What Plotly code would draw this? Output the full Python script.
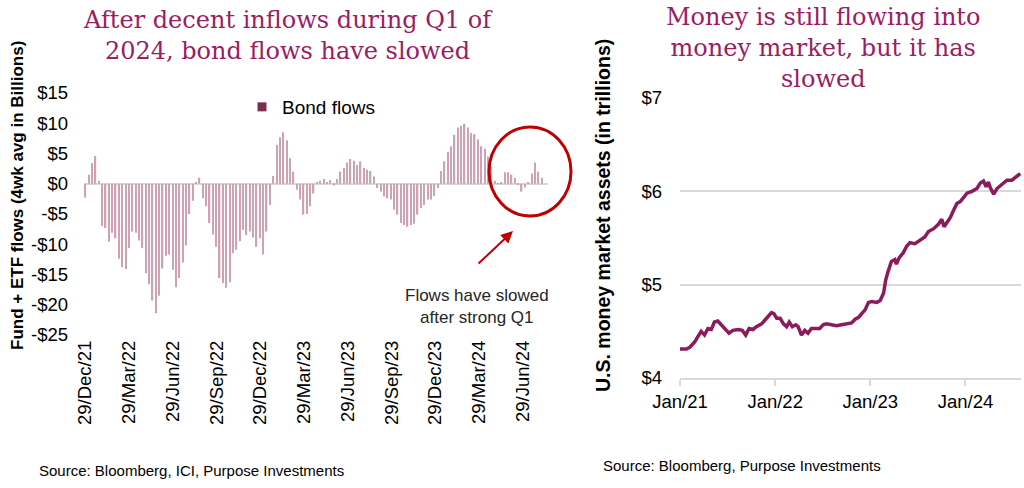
import pandas as pd
import plotly.graph_objects as go

# ---------------- Data ----------------
# Left: weekly bond fund + ETF flows (4wk avg, $B), first week 29/Dec/21
bond_start = "2021-12-29"
bond_flows = [
    -2.3, 1.5, 3.4, 4.6, 0.5, -7.0, -7.3, -9.6, -8.1, -9.0,
    -12.4, -13.8, -14.1, -10.6, -7.9, -8.1, -9.4, -10.6, -14.8, -16.6,
    -19.3, -21.4, -18.5, -14.0, -11.9, -11.7, -14.2, -17.1, -15.6, -13.0,
    -10.2, -5.0, -2.8, 0.3, 1.0, -2.4, -3.7, -6.5, -8.4, -10.4,
    -15.6, -16.4, -17.2, -16.3, -11.5, -10.9, -9.5, -7.6, -8.5, -7.9,
    -8.9, -10.4, -9.0, -11.7, -7.9, -3.5, 1.3, 6.4, 7.7, 8.5,
    7.2, 4.2, 2.0, -1.0, -2.6, -5.1, -5.0, -3.7, -1.6, 0.2,
    0.5, 0.8, 0.2, 0.6, -0.3, 0.8, 2.0, 2.6, 3.5, 4.1,
    3.8, 3.1, 3.7, 2.6, 2.3, 2.1, 1.2, -0.7, -1.3, -2.1,
    -2.4, -2.6, -4.3, -5.1, -6.5, -6.8, -7.1, -6.8, -6.6, -5.1,
    -4.0, -3.5, -2.6, -2.6, -2.0, -0.7, 2.1, 3.7, 5.3, 6.2,
    8.1, 9.3, 9.6, 9.9, 9.3, 8.4, 8.2, 7.3, 6.2, 5.8,
    4.5, 2.8, 0.5, 0.1, 0.3, 1.9, 1.9, 1.5, 1.0, -0.2,
    -1.3, -0.6, 0.2, 1.7, 3.5, 2.0, 1.0,
]
bond_tick_dates = ["2021-12-29", "2022-03-29", "2022-06-29", "2022-09-29", "2022-12-29",
                   "2023-03-29", "2023-06-29", "2023-09-29", "2023-12-29", "2024-03-29",
                   "2024-06-29"]
bond_tick_labels = ["29/Dec/21", "29/Mar/22", "29/Jun/22", "29/Sep/22", "29/Dec/22",
                    "29/Mar/23", "29/Jun/23", "29/Sep/23", "29/Dec/23", "29/Mar/24",
                    "29/Jun/24"]
bond_y_ticks = [15, 10, 5, 0, -5, -10, -15, -20, -25]
bond_y_labels = ["$15", "$10", "$5", "$0", "-$5", "-$10", "-$15", "-$20", "-$25"]

# Right: U.S. money market assets (trillions)
mm_dates = [
    "2021-01-01", "2021-01-26", "2021-02-08", "2021-02-27", "2021-03-10", "2021-03-23",
    "2021-04-05", "2021-04-18", "2021-05-01", "2021-05-13", "2021-05-26", "2021-06-08",
    "2021-06-21", "2021-07-08", "2021-07-23", "2021-08-12", "2021-08-28", "2021-09-10",
    "2021-09-23", "2021-10-08", "2021-10-21", "2021-11-10", "2021-11-29", "2021-12-18",
    "2021-12-27", "2022-01-07", "2022-01-20", "2022-02-02", "2022-02-14", "2022-02-24",
    "2022-03-08", "2022-03-21", "2022-03-30", "2022-04-12", "2022-04-25", "2022-05-07",
    "2022-05-20", "2022-06-02", "2022-06-21", "2022-07-04", "2022-07-17", "2022-08-05",
    "2022-08-25", "2022-09-13", "2022-10-02", "2022-10-21", "2022-11-04", "2022-11-17",
    "2022-11-29", "2022-12-12", "2022-12-25", "2023-01-07", "2023-01-26", "2023-02-08",
    "2023-02-21", "2023-03-01", "2023-03-10", "2023-03-23", "2023-04-05", "2023-04-11",
    "2023-04-22", "2023-05-07", "2023-05-20", "2023-06-02", "2023-06-21", "2023-07-10",
    "2023-07-29", "2023-08-12", "2023-09-01", "2023-09-20", "2023-10-02", "2023-10-11",
    "2023-10-21", "2023-11-04", "2023-11-17", "2023-11-29", "2023-12-12", "2023-12-25",
    "2024-01-07", "2024-01-26", "2024-02-14", "2024-02-27", "2024-03-10", "2024-03-20",
    "2024-03-29", "2024-04-05", "2024-04-18", "2024-05-01", "2024-05-20", "2024-06-08",
    "2024-06-27", "2024-07-16", "2024-07-29",
]
mm_assets = [
    4.31, 4.31, 4.33, 4.39, 4.44, 4.50,
    4.46, 4.53, 4.52, 4.60, 4.61, 4.57,
    4.52, 4.48, 4.51, 4.52, 4.51, 4.46,
    4.53, 4.52, 4.55, 4.58, 4.64, 4.70,
    4.69, 4.64, 4.64, 4.58, 4.55, 4.60,
    4.55, 4.57, 4.55, 4.46, 4.51, 4.48,
    4.53, 4.53, 4.53, 4.57, 4.58, 4.57,
    4.56, 4.57, 4.58, 4.59, 4.63, 4.65,
    4.69, 4.73, 4.81, 4.82, 4.81, 4.83,
    4.91, 5.05, 5.14, 5.25, 5.27, 5.22,
    5.29, 5.34, 5.41, 5.45, 5.44, 5.47,
    5.51, 5.57, 5.60, 5.65, 5.70, 5.62,
    5.66, 5.72, 5.80, 5.87, 5.89, 5.94,
    5.98, 6.00, 6.03, 6.09, 6.11, 6.05,
    6.10, 6.04, 5.97, 6.03, 6.07, 6.12,
    6.12, 6.16, 6.19,
]
mm_tick_dates = ["2021-01-01", "2022-01-01", "2023-01-01", "2024-01-01"]
mm_tick_labels = ["Jan/21", "Jan/22", "Jan/23", "Jan/24"]
mm_y_ticks = [4, 5, 6, 7]
mm_y_labels = ["$4", "$5", "$6", "$7"]

# ---------------- Styling ----------------
W, H = 1024, 488
SANS = "Liberation Sans, Arial, sans-serif"
SERIF = "DejaVu Serif, Georgia, serif"
TITLE_COL = "#9B1D63"
LINE_COL = "#8C1B5C"
BAR_COL = "#CDA2B2"
LEG_COL = "#7B2D4E"
RED = "#C00000"
TICK_SIZE = 18.5


def px(x):
    return x / W


def py(y):
    return 1 - y / H


bond_dates = pd.date_range(bond_start, periods=len(bond_flows), freq="7D")

fig = go.Figure()
fig.add_trace(go.Bar(
    x=bond_dates, y=bond_flows, name="Bond flows",
    marker=dict(color=BAR_COL, line=dict(width=0)),
    showlegend=False, xaxis="x", yaxis="y",
))
fig.add_trace(go.Scatter(
    x=[None], y=[None], mode="markers", name="Bond flows",
    marker=dict(symbol="square", size=9, color=LEG_COL),
    xaxis="x", yaxis="y",
))
fig.add_trace(go.Scatter(
    x=pd.to_datetime(mm_dates), y=mm_assets, mode="lines",
    line=dict(color=LINE_COL, width=3.5), showlegend=False,
    xaxis="x2", yaxis="y2",
))

fig.update_layout(
    width=W, height=H,
    margin=dict(l=0, r=0, t=0, b=0, autoexpand=False),
    paper_bgcolor="white", plot_bgcolor="white",
    font=dict(family=SANS, color="#000000", size=16),
    bargap=0.6,
    showlegend=True,
    legend=dict(x=px(242), y=py(88), xanchor="left", yanchor="top",
                bgcolor="rgba(0,0,0,0)", font=dict(size=19, family=SANS)),
    xaxis=dict(
        domain=[px(84), px(548)], anchor="y", type="date", automargin=False,
        range=["2021-12-26", "2024-08-20"],
        tickvals=bond_tick_dates, ticktext=bond_tick_labels, tickangle=-90,
        showgrid=False, showline=False, zeroline=False, ticks="",
        tickfont=dict(size=TICK_SIZE), ticklabelstandoff=1,
    ),
    yaxis=dict(
        domain=[py(335), py(93)], anchor="x", range=[-25, 15], automargin=False,
        tickvals=bond_y_ticks, ticktext=bond_y_labels,
        showgrid=False, showline=False, ticks="",
        zeroline=True, zerolinecolor="#D9D9D9", zerolinewidth=2,
        tickfont=dict(size=TICK_SIZE), ticklabelstandoff=15,
    ),
    xaxis2=dict(
        domain=[px(680), px(1021)], anchor="y2", type="date", automargin=False,
        range=["2021-01-01", "2024-08-01"],
        tickvals=mm_tick_dates, ticktext=mm_tick_labels,
        showgrid=False, showline=True, linecolor="#D9D9D9", linewidth=1.5,
        ticks="outside", ticklen=6, tickcolor="#D9D9D9", tickwidth=1.5,
        zeroline=False, tickfont=dict(size=TICK_SIZE), ticklabelstandoff=0,
    ),
    yaxis2=dict(
        domain=[py(378), py(98)], anchor="x2", range=[4, 7], automargin=False,
        tickvals=mm_y_ticks, ticktext=mm_y_labels,
        showgrid=True, gridcolor="#D9D9D9", gridwidth=1.5,
        showline=False, zeroline=False, ticks="",
        tickfont=dict(size=TICK_SIZE), ticklabelstandoff=17,
    ),
)

annotations = [
    # titles
    dict(x=px(288), y=py(35), text="After decent inflows during Q1 of<br>2024, bond flows have slowed",
         font=dict(family=SERIF, size=24, color=TITLE_COL)),
    dict(x=px(823), y=py(48), text="Money is still flowing into<br>money market, but it has<br>slowed",
         font=dict(family=SERIF, size=24, color=TITLE_COL)),
    # axis titles
    dict(x=px(17), y=py(196), text="<b>Fund + ETF flows (4wk avg in Billions)</b>", textangle=-90,
         font=dict(family=SANS, size=17, color="#000000")),
    dict(x=px(603), y=py(216), text="<b>U.S. money market assets (in trillions)</b>", textangle=-90,
         font=dict(family=SANS, size=19.5, color="#000000")),
    # callout text
    dict(x=px(477), y=py(306), text="Flows have slowed<br>after strong Q1",
         font=dict(family=SANS, size=17, color="#262626")),
    # sources
    dict(x=px(37), y=py(470), xanchor="left", text="Source: Bloomberg, ICI, Purpose Investments",
         font=dict(family=SANS, size=15, color="#000000")),
    dict(x=px(601), y=py(465), xanchor="left", text="Source: Bloomberg, Purpose Investments",
         font=dict(family=SANS, size=15, color="#000000")),
]
for a in annotations:
    a.setdefault("xref", "paper")
    a.setdefault("yref", "paper")
    a.setdefault("showarrow", False)
    a.setdefault("xanchor", "center")
    a.setdefault("yanchor", "middle")
    fig.add_annotation(**a)

# arrow (tail offset in pixels from the head)
fig.add_annotation(x=px(513), y=py(231), xref="paper", yref="paper",
                   ax=-36, ay=34, axref="pixel", ayref="pixel",
                   showarrow=True, arrowhead=2, arrowsize=1.2, arrowwidth=2,
                   arrowcolor=RED, text="")

# red circle
fig.add_shape(type="circle", xref="paper", yref="paper",
              x0=px(489), x1=px(571), y0=py(216), y1=py(127),
              line=dict(color=RED, width=3))

fig.write_html("out.html", config={"displayModeBar": False},
               post_script="document.body.style.margin='0px';document.body.style.padding='0px';")
